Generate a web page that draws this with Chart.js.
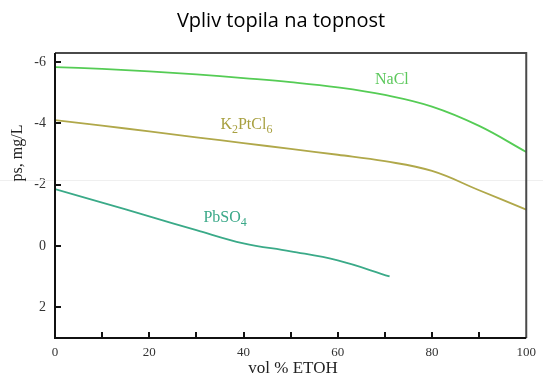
<!DOCTYPE html>
<html>
<head>
<meta charset="utf-8">
<script src="https://cdn.jsdelivr.net/npm/chart.js@4"></script>
<style>
  html, body { margin: 0; padding: 0; background: #fff; }
  #wrap { width: 543px; height: 379px; position: relative; }
</style>
</head>
<body>
<div id="wrap"><canvas id="solChart"></canvas></div>
<script>
// Data
const volX = [0, 10, 20, 30, 40, 50, 60, 70, 80, 90, 100];
const naClValues = [-5.84, -5.78, -5.70, -5.60, -5.48, -5.35, -5.18, -4.93, -4.55, -3.92, -3.07];
const k2PtCl6Values = [-4.11, -3.93, -3.74, -3.55, -3.36, -3.17, -2.98, -2.77, -2.45, -1.82, -1.19];
const pbX = [0, 10, 20, 30, 40, 50, 60, 71];
const pbSO4Values = [-1.86, -1.42, -0.97, -0.52, -0.09, 0.17, 0.47, 0.99];
const xTicks = [0, 20, 40, 60, 80, 100];
const yTicks = [-6, -4, -2, 0, 2];

const serif = '"Liberation Serif", "DejaVu Serif", serif';

function toPoints(xs, ys) {
    return xs.map((x, i) => ({ x: x, y: ys[i] }));
}

// Plugin for title, axis titles, labels, frame and inward ticks
const decorPlugin = {
    id: 'decor',
    beforeDatasetsDraw(chart) {
        const ctx = chart.ctx;
        // faint scan line across the picture
        ctx.save();
        ctx.strokeStyle = '#efefef';
        ctx.lineWidth = 1;
        ctx.beginPath();
        ctx.moveTo(0, 180.5);
        ctx.lineTo(chart.width, 180.5);
        ctx.stroke();
        ctx.restore();
    },
    afterDatasetsDraw(chart) {
        const ctx = chart.ctx;
        const a = chart.chartArea;
        const xs = chart.scales.x;
        const ys = chart.scales.y;
        ctx.save();

        // frame
        ctx.lineWidth = 2;
        ctx.strokeStyle = '#4a4a4a';
        ctx.beginPath();
        ctx.moveTo(a.left, a.top);
        ctx.lineTo(a.right, a.top);
        ctx.lineTo(a.right, a.bottom);
        ctx.stroke();
        ctx.strokeStyle = '#111';
        ctx.beginPath();
        ctx.moveTo(a.left, a.top);
        ctx.lineTo(a.left, a.bottom);
        ctx.lineTo(a.right, a.bottom);
        ctx.stroke();

        // inward ticks
        ctx.strokeStyle = '#111';
        for (let v = 10; v < 100; v += 10) {
            const px = Math.round(xs.getPixelForValue(v));
            ctx.beginPath();
            ctx.moveTo(px, a.bottom);
            ctx.lineTo(px, a.bottom - 6);
            ctx.stroke();
        }
        yTicks.forEach(v => {
            const py = Math.round(ys.getPixelForValue(v));
            ctx.beginPath();
            ctx.moveTo(a.left, py);
            ctx.lineTo(a.left + 6, py);
            ctx.stroke();
        });

        // curve labels
        ctx.textBaseline = 'middle';
        ctx.textAlign = 'left';
        ctx.font = '16px ' + serif;
        ctx.fillStyle = '#5cc85c';
        ctx.fillText('NaCl', xs.getPixelForValue(67.9), ys.getPixelForValue(-5.41));

        ctx.fillStyle = '#a8a040';
        let px = xs.getPixelForValue(35.1);
        let py = ys.getPixelForValue(-3.95);
        ctx.fillText('K', px, py);
        px += ctx.measureText('K').width;
        ctx.font = '12px ' + serif;
        ctx.fillText('2', px, py + 5);
        px += ctx.measureText('2').width;
        ctx.font = '16px ' + serif;
        ctx.fillText('PtCl', px, py);
        px += ctx.measureText('PtCl').width;
        ctx.font = '12px ' + serif;
        ctx.fillText('6', px, py + 5);

        ctx.fillStyle = '#3aa888';
        ctx.font = '16px ' + serif;
        px = xs.getPixelForValue(31.5);
        py = ys.getPixelForValue(-0.93);
        ctx.fillText('PbSO', px, py);
        px += ctx.measureText('PbSO').width;
        ctx.font = '12px ' + serif;
        ctx.fillText('4', px, py + 5);

        // chart title
        ctx.fillStyle = '#000';
        ctx.textAlign = 'center';
        ctx.font = '20px "Open Sans", sans-serif';
        ctx.fillText('Vpliv topila na topnost', 281, 21);

        // axis titles
        ctx.font = '17px ' + serif;
        ctx.fillStyle = '#222';
        ctx.fillText('vol % ETOH', 293, 369);
        ctx.font = '16px ' + serif;
        ctx.translate(18, 153);
        ctx.rotate(-Math.PI / 2);
        ctx.fillText('ps, mg/L', 0, 0);

        ctx.restore();
    }
};

const lineStyle = {
    borderWidth: 1.8,
    pointRadius: 0,
    fill: false,
    tension: 0.4
};

new Chart(document.getElementById('solChart'), {
    type: 'line',
    data: {
        datasets: [
            { ...lineStyle, label: 'NaCl', data: toPoints(volX, naClValues), borderColor: '#55cc55' },
            { ...lineStyle, label: 'K2PtCl6', data: toPoints(volX, k2PtCl6Values), borderColor: '#b0a84a' },
            { ...lineStyle, label: 'PbSO4', data: toPoints(pbX, pbSO4Values), borderColor: '#3aaa88' }
        ]
    },
    options: {
        responsive: true,
        maintainAspectRatio: false,
        animation: false,
        layout: { padding: { top: 53, right: 12, left: 0, bottom: 0 } },
        plugins: {
            legend: { display: false },
            title: { display: false },
            tooltip: { enabled: false }
        },
        scales: {
            x: {
                type: 'linear',
                min: 0,
                max: 100,
                grid: { display: false, drawTicks: false },
                border: { display: false },
                afterBuildTicks: axis => { axis.ticks = xTicks.map(v => ({ value: v })); },
                afterFit: axis => { axis.height = 41; },
                ticks: {
                    padding: 7,
                    maxRotation: 0,
                    color: '#333',
                    font: { family: serif, size: 13 }
                }
            },
            y: {
                type: 'linear',
                min: -6.3,
                max: 3,
                reverse: true,
                grid: { display: false, drawTicks: false },
                border: { display: false },
                afterBuildTicks: axis => { axis.ticks = yTicks.map(v => ({ value: v })); },
                afterFit: axis => { axis.width = 55; },
                ticks: {
                    padding: 9,
                    color: '#333',
                    font: { family: serif, size: 14 }
                }
            }
        }
    },
    plugins: [decorPlugin]
});
</script>
</body>
</html>
